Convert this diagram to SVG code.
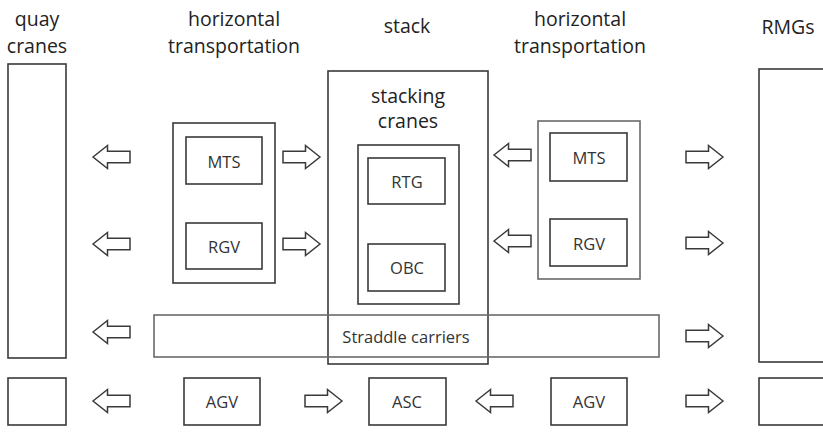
<svg xmlns="http://www.w3.org/2000/svg" width="823" height="440" viewBox="0 0 823 440">
<style>
.b{fill:none;stroke:#3a3a3a;stroke-width:1.6}
.g{fill:none;stroke:#6a6a6a;stroke-width:1.6}
.h{font-family:"Open Sans","Noto Sans",sans-serif;font-size:19.5px;fill:#222;text-anchor:middle}
.l{font-family:"Open Sans","Noto Sans",sans-serif;font-size:16.5px;fill:#333;text-anchor:middle}
.a{fill:#fff;stroke:#3a3a3a;stroke-width:1.5;stroke-linejoin:miter}
</style>
<defs>
<path id="al" d="M0,0 L14.5,-11.5 L14.5,-5.8 L37,-5.8 L37,5.8 L14.5,5.8 L14.5,11.5 Z"/>
<path id="ar" d="M0,0 L-14.5,-11.5 L-14.5,-5.8 L-37,-5.8 L-37,5.8 L-14.5,5.8 L-14.5,11.5 Z"/>
</defs>
<rect width="823" height="440" fill="#fff"/>
<g id="headers">
<text class="h" x="37" y="26">quay</text>
<text class="h" x="37" y="53">cranes</text>
<text class="h" x="234" y="26">horizontal</text>
<text class="h" x="234" y="53">transportation</text>
<text class="h" x="407" y="33">stack</text>
<text class="h" x="580" y="26">horizontal</text>
<text class="h" x="580" y="53">transportation</text>
<text class="h" x="788" y="34">RMGs</text>
</g>
<g id="quay-cranes"><rect class="b" x="8" y="64" width="58" height="294"/></g>
<g id="quay-cranes-2"><rect class="b" x="8" y="378" width="58" height="47"/></g>
<g id="rmgs"><rect class="b" x="759" y="69" width="70" height="293"/></g>
<g id="rmgs-2"><rect class="b" x="759" y="378" width="70" height="47"/></g>
<g id="ht-left"><rect class="b" x="173" y="123" width="102" height="160"/></g>
<g id="mts-left"><rect class="b" x="186" y="137" width="76" height="47"/><text class="l" x="224" y="168">MTS</text></g>
<g id="rgv-left"><rect class="b" x="186" y="223" width="76" height="46"/><text class="l" x="224" y="253">RGV</text></g>
<g id="stack"><rect class="b" x="328" y="71" width="160" height="293"/></g>
<g id="stacking-cranes"><rect class="b" x="358" y="145" width="101" height="159"/><text class="h" x="408" y="103">stacking</text><text class="h" x="408" y="128">cranes</text></g>
<g id="rtg"><rect class="b" x="368" y="158" width="77" height="46"/><text class="l" x="407" y="188">RTG</text></g>
<g id="obc"><rect class="b" x="368" y="244" width="77" height="47"/><text class="l" x="407" y="274">OBC</text></g>
<g id="straddle"><rect class="g" x="154" y="315" width="505" height="42"/><text class="l" x="406" y="343">Straddle carriers</text></g>
<g id="ht-right"><rect class="g" x="538" y="121" width="102" height="158"/></g>
<g id="mts-right"><rect class="b" x="550" y="133" width="77" height="48"/><text class="l" x="589" y="164">MTS</text></g>
<g id="rgv-right"><rect class="b" x="550" y="219" width="77" height="47"/><text class="l" x="589" y="250">RGV</text></g>
<g id="agv-left"><rect class="b" x="184" y="378" width="76" height="47"/><text class="l" x="222" y="408">AGV</text></g>
<g id="asc"><rect class="b" x="369" y="378" width="77" height="47"/><text class="l" x="407" y="408">ASC</text></g>
<g id="agv-right"><rect class="b" x="551" y="378" width="76" height="47"/><text class="l" x="589" y="408">AGV</text></g>
<g id="connectors">
<use href="#al" class="a" x="93" y="157"/>
<use href="#al" class="a" x="93" y="244"/>
<use href="#al" class="a" x="93" y="332"/>
<use href="#al" class="a" x="93" y="401"/>
<use href="#ar" class="a" x="320" y="157"/>
<use href="#ar" class="a" x="320" y="244"/>
<use href="#ar" class="a" x="342" y="401"/>
<use href="#al" class="a" x="494" y="155"/>
<use href="#al" class="a" x="494" y="241"/>
<use href="#al" class="a" x="476" y="401"/>
<use href="#ar" class="a" x="723" y="157"/>
<use href="#ar" class="a" x="723" y="243"/>
<use href="#ar" class="a" x="723" y="336"/>
<use href="#ar" class="a" x="723" y="401"/>
</g>
</svg>
